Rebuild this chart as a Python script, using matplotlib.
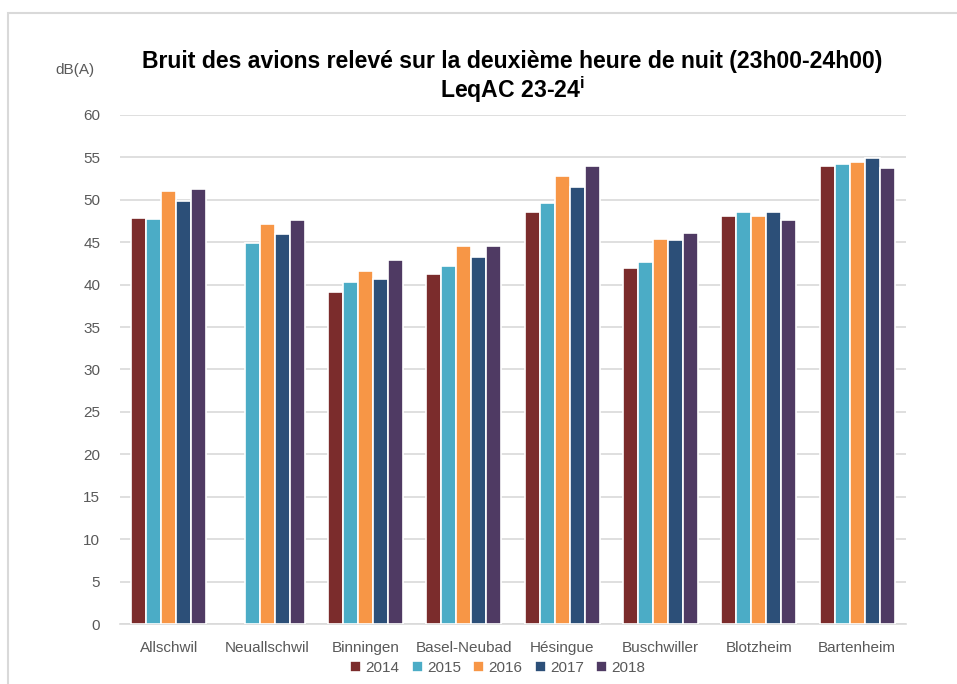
import numpy as np
import matplotlib
matplotlib.use("Agg")
from matplotlib import pyplot as plt
from matplotlib.patches import Rectangle

# Data
sites = ["Allschwil", "Neuallschwil", "Binningen", "Basel-Neubad", "Hésingue",
         "Buschwiller", "Blotzheim", "Bartenheim"]
years = ["2014", "2015", "2016", "2017", "2018"]
leq_2014 = [47.8, np.nan, 39.1, 41.2, 48.6, 42.0, 48.1, 54.0]
leq_2015 = [47.7, 44.9, 40.3, 42.2, 49.6, 42.7, 48.6, 54.2]
leq_2016 = [51.0, 47.2, 41.6, 44.6, 52.8, 45.4, 48.1, 54.5]
leq_2017 = [49.9, 46.0, 40.7, 43.2, 51.5, 45.2, 48.6, 54.9]
leq_2018 = [51.3, 47.6, 42.9, 44.6, 54.0, 46.1, 47.6, 53.7]
series = [leq_2014, leq_2015, leq_2016, leq_2017, leq_2018]
colors = ["#7B2C2C", "#4BACC6", "#F79646", "#2C4F78", "#4F3A63"]

plt.rcParams["font.family"] = ["Liberation Sans", "DejaVu Sans"]

fig = plt.figure(figsize=(9.57, 6.84), dpi=100, facecolor="white")
ax = fig.add_axes([0.125, 0.0877, 0.822, 0.7443])

# Chart-area border
fig.patches.append(Rectangle((0.008, -0.01), 1.2, 0.991, transform=fig.transFigure,
                             fill=False, edgecolor="#d9d9d9", linewidth=1.5))

x = np.arange(len(sites))
width = 0.153
for i, (vals, year, col) in enumerate(zip(series, years, colors)):
    ax.bar(x + (i - 2) * width, vals, width, color=col, edgecolor="white",
           linewidth=1.2, label=year, zorder=3)

ax.set_xlim(-0.5, len(sites) - 0.5)
ax.set_ylim(0, 60)
ax.set_yticks(range(0, 61, 5))
ax.set_xticks(x)
ax.set_xticklabels(sites)
ax.yaxis.grid(True, color="#d9d9d9", linewidth=1.2, zorder=0)
for s in ["top", "right", "left"]:
    ax.spines[s].set_visible(False)
ax.spines["bottom"].set_color("#d9d9d9")
ax.spines["bottom"].set_linewidth(1.2)
ax.tick_params(axis="both", length=0, labelcolor="#595959", labelsize=11)
ax.tick_params(axis="y", pad=14)
ax.tick_params(axis="x", pad=12)

fig.text(0.535, 0.910, "Bruit des avions relevé sur la deuxième heure de nuit (23h00-24h00)",
         ha="center", va="center", fontsize=16.6, fontweight="bold", color="black")
fig.text(0.535, 0.869, r"LeqAC 23-24$^{\mathregular{i}}$",
         ha="center", va="center", fontsize=16.6, fontweight="bold", color="black")
fig.text(0.078, 0.898, "dB(A)", ha="center", va="center", fontsize=11, color="#595959")

ax.legend(loc="upper center", bbox_to_anchor=(0.481, -0.045), ncol=5, frameon=False,
          fontsize=11, handlelength=0.7, handleheight=0.7, handletextpad=0.3,
          columnspacing=0.8, labelcolor="#595959")

fig.savefig("out.png", dpi=100, facecolor="white")
